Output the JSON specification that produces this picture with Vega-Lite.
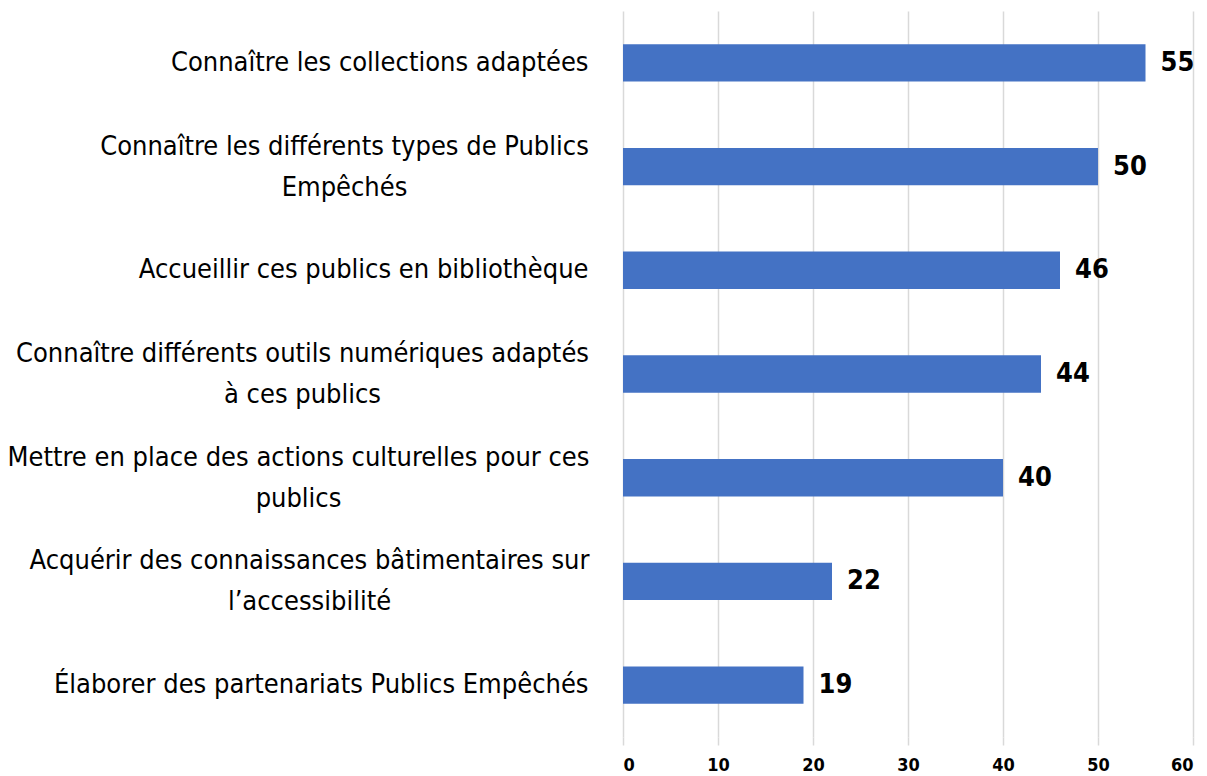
{
  "$schema": "https://vega.github.io/schema/vega-lite/v6.json",
  "width": 570,
  "height": 726,
  "autosize": {"type": "none"},
  "padding": {"left": 623, "top": 11, "right": 14, "bottom": 39},
  "config": {"view": {"stroke": null}, "font": "DejaVu Sans Condensed"},
  "data": {
    "values": [
      {"label": "Connaître les collections adaptées", "value": 55, "order": 1},
      {"label": "Connaître les différents types de Publics|Empêchés", "value": 50, "order": 2},
      {"label": "Accueillir ces publics en bibliothèque", "value": 46, "order": 3},
      {"label": "Connaître différents outils numériques adaptés|à ces publics", "value": 44, "order": 4},
      {"label": "Mettre en place des actions culturelles pour ces|publics", "value": 40, "order": 5},
      {"label": "Acquérir des connaissances bâtimentaires sur|l’accessibilité", "value": 22, "order": 6},
      {"label": "Élaborer des partenariats Publics Empêchés", "value": 19, "order": 7}
    ]
  },
  "encoding": {
    "y": {
      "field": "label",
      "type": "nominal",
      "sort": {"field": "order"},
      "scale": {"paddingInner": 0.64, "paddingOuter": 0.32},
      "axis": {
        "title": null,
        "domain": false,
        "ticks": false,
        "labelFontSize": 27,
        "labelColor": "#000000",
        "labelLimit": 700,
        "labelLineHeight": 41,
        "labelAlign": {"condition": {"test": "indexof(datum.value, '|') >= 0", "value": "center"}, "value": "right"},
        "labelPadding": {
          "condition": [
            {"test": "indexof(datum.value, 'types de Publics') >= 0", "value": 279},
            {"test": "indexof(datum.value, 'outils num') >= 0", "value": 321},
            {"test": "indexof(datum.value, 'actions culturelles') >= 0", "value": 325},
            {"test": "indexof(datum.value, 'bâtimentaires') >= 0", "value": 314}
          ],
          "value": 35
        },
        "labelOffset": {"condition": {"test": "indexof(datum.value, '|') >= 0", "value": -20}, "value": 0},
        "labelExpr": "split(datum.label, '|')"
      }
    },
    "x": {
      "field": "value",
      "type": "quantitative",
      "scale": {"domain": [0, 60], "nice": false},
      "axis": {
        "title": null,
        "values": [0, 10, 20, 30, 40, 50, 60],
        "domain": false,
        "gridColor": "#d9d9d9",
        "gridWidth": 1.5,
        "tickColor": "#d9d9d9",
        "tickSize": 8,
        "tickWidth": 1.5,
        "labelFontSize": 18,
        "labelFontWeight": "bold",
        "labelColor": "#000000",
        "labelPadding": 11
      }
    }
  },
  "layer": [
    {"mark": {"type": "bar", "color": "#4472c4"}},
    {
      "mark": {"type": "text", "align": "left", "dx": 15, "fontSize": 27, "fontWeight": "bold", "color": "#000000"},
      "encoding": {"text": {"field": "value", "type": "quantitative"}}
    }
  ]
}
